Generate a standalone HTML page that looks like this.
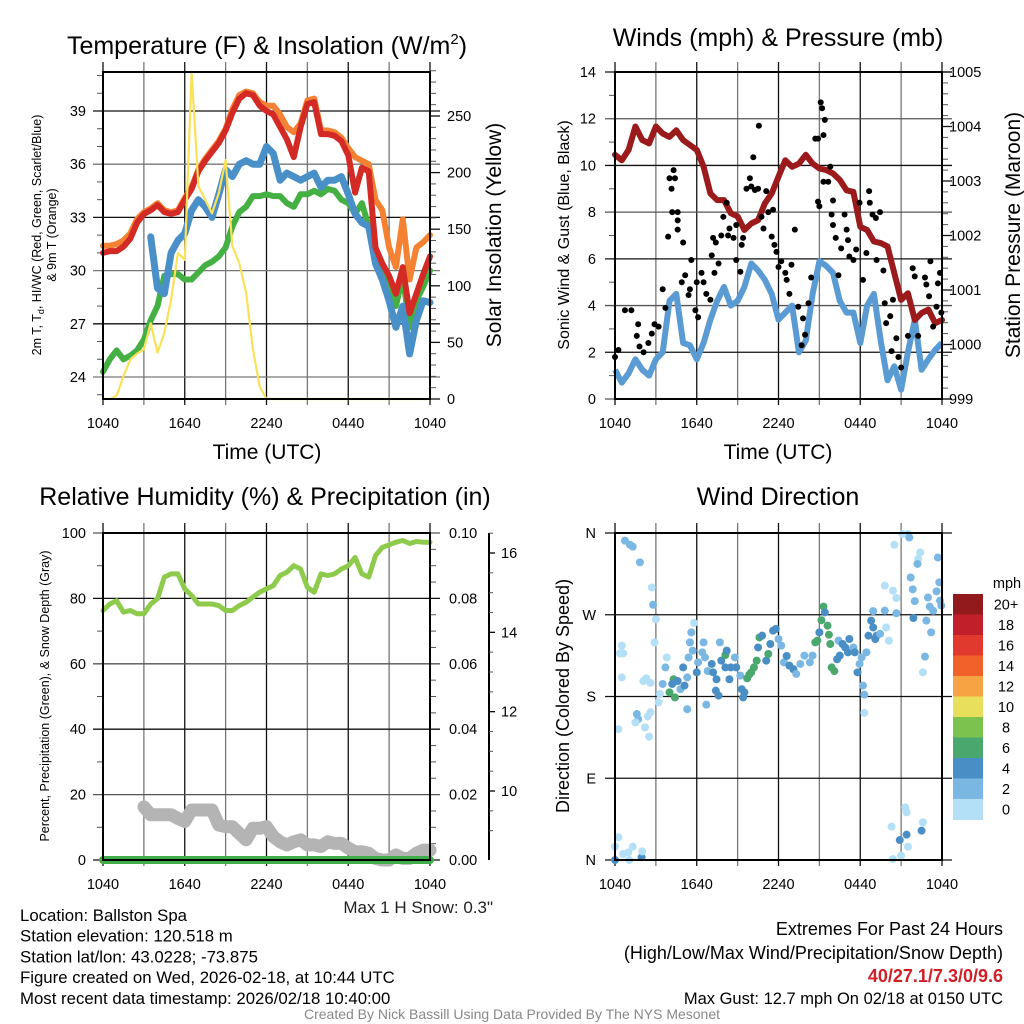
<!DOCTYPE html>
<html><head><meta charset="utf-8"><style>
html,body{margin:0;padding:0;background:#fff;}
svg{display:block;font-family:"Liberation Sans",sans-serif;}
</style></head><body>
<svg id="fig" width="1024" height="1024" viewBox="0 0 1024 1024" xmlns="http://www.w3.org/2000/svg">
<rect width="1024" height="1024" fill="#fff"/>
<g id="layer"></g>
</svg>
<script>
// ---------- DATA (half-hourly, 49 points from 1040 UTC to 1040 UTC) ----------
const xTickLabels = ["1040","1640","2240","0440","1040"];
const tempRed = [31.0,31.1,31.1,31.35,31.8,32.7,33.2,33.4,33.7,33.3,33.2,33.3,34.0,34.6,35.6,36.2,36.7,37.2,37.9,38.9,39.7,40.0,39.9,39.3,39.0,38.8,38.1,37.4,36.4,38.1,39.4,39.5,37.7,37.7,37.6,37.3,36.5,34.4,35.8,35.6,31.3,30.4,29.7,28.7,30.2,27.6,28.7,29.8,30.8];
const tempOrange = [31.4,31.4,31.5,31.7,32.1,32.9,33.3,33.5,33.8,33.4,33.3,33.4,34.1,34.7,35.7,36.3,36.8,37.3,38.0,39.1,39.9,40.1,40.0,39.5,39.3,39.3,38.8,38.1,37.8,38.3,39.6,39.7,37.9,37.9,37.8,37.5,36.9,36.4,36.2,36.0,34.0,33.4,31.3,30.2,32.9,29.5,31.3,31.6,32.0];
const dewGreen = [24.3,25.0,25.5,25.0,25.2,25.5,26.1,27.2,28.0,29.7,29.8,29.8,29.5,29.5,29.9,30.3,30.5,30.8,31.3,32.5,33.3,33.6,34.2,34.2,34.3,34.2,34.2,33.8,33.6,34.3,34.3,34.5,34.3,34.6,34.5,34.0,33.8,33.2,33.8,32.5,30.6,29.7,29.1,28.0,29.7,26.8,28.3,29.1,30.0];
const windChillBlue = [null,null,29.5,null,null,null,null,31.9,29.0,28.7,31.0,31.7,32.1,33.4,34.0,33.6,33.0,34.3,35.7,35.3,36.0,36.2,36.0,36.0,37.0,36.6,35.1,35.5,35.3,35.1,35.3,35.5,34.7,35.1,35.1,35.3,34.3,33.2,32.7,32.5,30.4,29.5,28.3,26.8,28.0,25.3,27.2,28.3,28.2];
const solar = [0,0,3,20,35,40,44,67,41,58,88,129,123,289,188,176,164,182,211,135,120,94,44,11,0,0,0,0,0,0,0,0,0,0,0,0,0,0,0,0,0,0,0,0,0,0,0,0,0];
const windSpeed = [1.25,0.7,1.1,1.7,1.25,1.0,1.7,2.0,4.2,4.5,2.4,2.3,1.7,2.4,3.4,4.2,4.8,4.0,4.2,4.8,5.8,5.5,5.1,4.5,3.4,3.7,4.0,2.0,2.5,4.5,5.9,5.7,5.4,4.2,3.7,3.7,2.4,4.0,4.5,2.5,0.8,1.4,0.4,2.0,3.4,1.25,1.7,2.1,2.4];
const pressure = [1003.48,1003.38,1003.57,1004.0,1003.75,1003.69,1004.0,1003.87,1003.81,1003.93,1003.75,1003.66,1003.57,1003.26,1002.77,1002.65,1002.65,1002.41,1002.35,1002.10,1002.22,1002.28,1002.59,1002.77,1003.08,1003.38,1003.26,1003.32,1003.48,1003.32,1003.23,1003.20,1003.14,1003.02,1002.83,1002.80,1002.16,1002.10,1001.89,1001.86,1001.80,1001.31,1000.82,1000.94,1000.45,1000.58,1000.64,1000.39,1000.45];
const gustTimes = [0,0.25,0.73,1.2,1.7,1.6,1.8,2.1,2.45,2.7,2.9,3.2,3.5,3.7,3.9,4.0,4.3,4.15,4.4,4.2,4.6,4.6,4.6,5.0,5.15,4.9,5.4,5.6,5.5,5.9,6.1,6.0,6.5,6.35,6.7,7.0,7.1,7.2,7.4,7.6,7.3,7.8,7.95,8.2,8.3,8.4,8.7,8.9,8.9,9.2,9.3,9.4,9.65,9.9,10.0,10.15,10.27,10.5,10.56,10.75,10.9,11.1,11.25,11.6,11.5,11.7,11.85,12.0,12.2,12.5,12.6,12.95,13.2,12.8,13.45,13.8,13.95,13.7,14.2,14.4,14.7,14.9,15.1,15.2,15.3,15.4,14.9,15.0,15.3,15.65,15.8,15.9,16.0,16.0,16.2,16.4,16.6,16.85,17.0,17.1,17.2,17.5,17.7,17.95,18.2,18.45,18.65,18.7,18.9,19.15,19.2,19.45,19.7,19.8,19.9,20.2,20.3,20.4,20.65,20.8,21.0,21.5,21.85,22.0,22.25,22.75,22.85,23.05,23.15,23.35,23.6,23.7,23.85,23.95];
const gustValues = [1.8,2.1,3.8,3.8,3.2,2.7,2.25,2.0,2.4,2.8,3.2,3.1,4.7,3.9,6.95,9.45,9.8,9.0,9.45,8.0,8.0,7.65,7.25,6.7,5.3,5.0,4.45,5.95,4.7,3.8,3.5,5.0,5.0,5.4,4.5,4.25,6.15,6.9,6.7,5.8,5.4,7.0,7.8,8.4,7.0,7.3,6.9,5.95,7.45,5.45,6.6,6.9,9.0,9.45,9.1,10.35,8.95,9.0,11.7,7.8,7.3,8.9,8.0,8.1,6.95,6.6,6.3,5.65,5.9,5.4,5.1,5.75,7.25,4.5,3.95,3.45,2.75,2.3,4.1,5.2,11.15,11.15,12.7,12.45,11.3,11.95,8.45,8.25,9.3,9.3,9.95,7.9,8.5,7.45,6.9,5.3,6.45,7.9,7.25,6.8,6.1,5.95,6.4,8.4,5.1,6.25,8.9,8.4,7.9,7.75,5.95,8.0,5.5,4.1,3.25,3.55,2.05,4.25,2.6,1.8,1.35,2.7,5.6,5.25,2.7,5.2,4.9,4.4,5.9,3.1,3.95,4.95,5.4,3.7];
const dirTimes = [0.73,1.1,1.3,1.83,2.7,2.8,3.0,2.9,0.25,0.5,0.37,0.6,0.5,1.6,1.7,1.5,2.08,2.3,2.6,2.6,2.4,2.2,2.5,3.2,3.3,3.5,3.7,3.8,4.0,4.3,4.2,4.4,4.6,4.8,5.0,5.1,5.3,5.3,5.4,5.5,5.6,5.8,5.7,6.0,6.1,6.4,6.5,6.6,6.7,6.8,7.1,7.2,7.4,7.6,7.45,7.7,7.8,8.1,8.1,8.2,8.4,8.5,8.8,8.9,9.2,9.3,9.4,9.5,9.7,9.85,10.0,10.2,10.4,10.5,10.6,10.8,11.1,11.25,11.4,11.6,11.8,12.0,12.2,12.4,12.6,12.8,13.1,13.3,13.6,13.9,14.3,14.5,14.7,14.85,15.0,15.15,15.3,15.4,15.6,15.7,15.8,15.9,16.1,16.3,16.4,16.5,16.7,16.9,17.1,17.2,17.5,17.6,17.8,17.95,18.1,18.2,18.3,18.3,18.45,18.6,18.8,18.95,19.1,19.2,18.95,19.45,19.8,19.9,20.1,19.8,20.4,20.5,20.65,20.65,21.1,21.5,21.6,21.7,21.85,21.9,22.0,22.25,22.4,22.2,22.75,22.6,22.85,22.97,23.1,23.2,23.35,23.6,23.7,23.8,23.85,23.95,0,0.25,0,0.6,0.98,1.05,1.3,1.95,2.0,20.3,20.4,20.9,21.0,21.3,21.4,21.4,21.5,22.5,22.6];
const dirDegrees = [351.6,347,345,327.7,300,281,265,239.6,144,236,227.5,227.5,201,160.7,155,151.5,197,200,195,162.6,158,146,135.8,173.6,182.7,193.8,212,223,184.6,199,193.8,179,197,188,212,192,166,201,223,239.6,250.6,261,230.5,206.6,217.6,228.6,239.6,223,171,208,215.8,206.6,186.4,181,199,239.6,219.5,212,225.7,230.5,199,212,223,212,203,188,179,184.6,200,204,206.6,212,219.5,234,245,247,219.5,226.8,237.8,252.5,254.3,243.3,236,217.6,224.6,214,210,204.8,215.8,225,217.6,225,239.6,241.5,250.6,264,279,272.6,258,248,237.8,212,208,221,241.5,225,237.8,234,228.6,243.3,234,228.6,206.6,215.8,223,192,182,162,228.6,247,263.5,256,243.3,247,274,249,274.5,256,241.5,302,296.5,347,288.4,271.6,358.9,358.9,355,311,298,266.4,285,331.4,338.6,325.9,223.9,206.6,263.5,289,279,250.6,274.4,295.8,333,305.7,285.5,280,0,25,14.7,6.6,8.4,0,14.7,3,9.5,36.7,1,22,4.8,58,52.5,27.9,14.7,32.3,41.5];
const dirSpeeds = [3,3,3,3,1,3,1,1,1,1,1,1,1,3,3,1,1,1,1,1,1,1,1,1,1,3,3,1,7,7,5,7,5,3,5,5,3,3,3,3,3,1,3,5,3,3,3,3,3,3,5,5,5,5,5,3,5,5,7,5,5,5,3,5,3,5,5,5,7,7,7,7,7,5,7,5,5,7,5,5,5,3,3,3,5,5,5,3,3,3,3,3,7,7,5,7,7,5,7,7,7,7,7,5,3,5,5,5,5,5,3,5,5,3,3,3,3,1,3,5,5,5,5,5,3,3,3,1,1,1,1,1,1,3,1,1,3,3,3,5,3,1,1,3,3,1,3,3,3,3,3,3,3,3,3,3,5,1,1,1,1,1,1,5,1,1,1,5,1,1,1,5,1,5,1];
const rh = [76.3,78.3,79.3,75.8,76.3,75.3,75.3,78.3,79.9,86.5,87.5,87.5,82.9,80.9,78.3,78.3,78.3,77.8,76.3,76.3,77.8,78.8,80.4,81.9,82.9,83.9,87.0,88.0,90.0,89.0,83.4,81.9,87.5,87.0,87.5,89.0,90.0,92.5,87.5,86.5,93.1,95.6,96.4,97.2,97.7,96.8,97.4,97.2,97.2];
const precip = [0,0,0,0,0,0,0,0,0,0,0,0,0,0,0,0,0,0,0,0,0,0,0,0,0,0,0,0,0,0,0,0,0,0,0,0,0,0,0,0,0,0,0,0,0,0,0,0,0];
const snowDepth = [null,null,null,null,null,null,9.60,9.40,9.40,9.40,9.40,9.31,9.23,9.52,9.52,9.52,9.52,9.14,9.10,9.10,8.93,8.77,9.06,9.06,9.10,8.85,8.72,8.64,8.72,8.77,8.64,8.64,8.60,8.72,8.68,8.68,8.56,8.47,8.47,8.43,8.30,8.26,8.26,8.39,8.30,8.30,8.43,8.51,8.51];
const speedBins = ["0","2","4","6","8","10","12","14","16","18","20+"];
const speedColors = ["#b3e0f7","#7ab8e3","#4a8ec6","#4aa86e","#7bc24e","#e8e05a","#f6a443","#f0622a","#e03a2e","#c1202a","#921a1d"];

// ---------- HELPERS ----------
const NS="http://www.w3.org/2000/svg";
const layer=document.getElementById('layer');
function mk(tag,attrs,parent){const e=document.createElementNS(NS,tag);for(const k in attrs)e.setAttribute(k,attrs[k]);(parent||layer).appendChild(e);return e;}
function lin(d0,d1,r0,r1){return v=>r0+(v-d0)*(r1-r0)/(d1-d0);}
function txt(x,y,s,size,anchor,extra){const t=mk('text',Object.assign({x:x,y:y,'font-size':size,'text-anchor':anchor||'middle',fill:'#000'},extra||{}));t.textContent=s;return t;}
function pathFrom(xs,ys){let d='',pen=false;for(let i=0;i<xs.length;i++){if(ys[i]===null){pen=false;continue;}d+=(pen?'L':'M')+xs[i].toFixed(1)+','+ys[i].toFixed(1);pen=true;}return d;}

function frame(p){
  const g=mk('g',{});
  
  
  for(let h=0;h<=24;h+=3){const x=p.x(h);mk('line',{x1:x,x2:x,y1:p.y0-10,y2:p.y1+6,stroke:(h%6===0)?'#111':'#777','stroke-width':1.3},g);}
  return g;
}
function xAxis(p){
  const g=mk('g',{});
  
  
  xTickLabels.forEach((s,i)=>{const t=txt(p.x(i*6),p.y1+29,s,14.5,'middle',{});g.appendChild(t);});
  return g;
}
function hGrid(p,vals,scale,col){vals.forEach((v,i)=>{const y=scale(v);mk('line',{x1:p.x0-10,x2:p.x1+10,y1:y,y2:y,stroke:col?col(i):'#111','stroke-width':1.3});});}
function minor(xa,vals,scale,dir,len){vals.forEach(v=>{const y=scale(v);mk('line',{x1:xa,x2:xa+dir*len,y1:y,y2:y,stroke:'#555','stroke-width':1});});}

const tH=i=>i*0.5;
const idx=tempRed.map((_,i)=>i);

// ---------- PANEL 1: Temperature ----------
(function(){
  const p={name:'temperature-panel',x0:103,x1:430,y0:72,y1:399};
  p.x=lin(0,24,p.x0,p.x1);
  const yT=lin(24,39,377,111), yS=lin(0,250,399,116);
  frame(p);
  hGrid(p,[24,27,30,33,36,39],yT,i=>i%2?'#111':'#777');
  const mt=[];for(let v=23;v<=41;v+=1)if(v%3)mt.push(v);minor(p.x0,mt,yT,-1,6);
  const ms=[];for(let v=10;v<=290;v+=10)if(v%50)ms.push(v);minor(p.x1,ms,yS,1,6);
  [0,50,100,150,200,250].forEach(v=>{mk('line',{x1:p.x1,x2:p.x1+10,y1:yS(v),y2:yS(v),stroke:'#111','stroke-width':1.3});const t=txt(p.x1+17,yS(v)+5,String(v),14.5,'start');});
  [24,27,30,33,36,39].forEach(v=>{const t=txt(86,yT(v)+5,String(v),14.5,'end');});
  const xs=idx.map(i=>p.x(tH(i)));
  const series=[[dewGreen,'#44b043','dewpoint-line',6],[windChillBlue,'#4a90c8','heat-index-wind-chill-line',7],[tempOrange,'#f58232','temp-9m-line',6],[tempRed,'#d42a26','temp-2m-line',6]];
  series.forEach(s=>{const e=mk('path',{d:pathFrom(xs,s[0].map(v=>v===null?null:yT(v))),fill:'none',stroke:s[1],'stroke-width':s[3],'stroke-linejoin':'round','stroke-linecap':'round'});});
  const sl=mk('path',{d:pathFrom(xs,solar.map(v=>yS(v))),fill:'none',stroke:'#fbe15a','stroke-width':2.2,'stroke-linejoin':'round'});
  
  
  mk('rect',{x:p.x0,y:p.y0,width:p.x1-p.x0,height:p.y1-p.y0,fill:'none',stroke:'#000','stroke-width':2});
  xAxis(p);
  const ti=txt(267,54,'Temperature (F) & Insolation (W/m',25,'middle');
  const ts=mk('tspan',{'font-size':15,dy:-10},ti);ts.textContent='2';const ts2=mk('tspan',{dy:10},ti);ts2.textContent=')';
  const xt=txt(267,459,'Time (UTC)',21,'middle');
  const st=txt(0,0,'Solar Insolation (Yellow)',21,'middle',{transform:'translate(501,235) rotate(-90)'});
  const yl=txt(0,0,'',12.5,'middle',{transform:'translate(41,235) rotate(-90)'});
  const a=mk('tspan',{},yl);a.textContent='2m T, T';const b=mk('tspan',{'font-size':9,dy:3},yl);b.textContent='d';const c=mk('tspan',{dy:-3},yl);c.textContent=', HI/WC (Red, Green, Scarlet/Blue)';
  const yl2=txt(0,0,'& 9m T (Orange)',12.5,'middle',{transform:'translate(56,235) rotate(-90)'});
})();

// ---------- PANEL 2: Winds ----------
(function(){
  const p={name:'winds-panel',x0:615,x1:942,y0:72,y1:399};
  p.x=lin(0,24,p.x0,p.x1);
  const yW=lin(0,14,399,72), yP=lin(999,1005,399,72);
  frame(p);
  hGrid(p,[0,2,4,6,8,10,12,14],yW,i=>i%2?'#111':'#555');
  const mw=[];for(let v=1;v<14;v+=2)mw.push(v);minor(p.x0,mw,yW,-1,6);
  const mp=[];for(let v=999.2;v<1005;v+=0.2)if(Math.abs(v-Math.round(v))>0.05)mp.push(v);minor(p.x1,mp,yP,1,6);
  [999,1000,1001,1002,1003,1004,1005].forEach(v=>{mk('line',{x1:p.x1,x2:p.x1+10,y1:yP(v),y2:yP(v),stroke:'#111','stroke-width':1.3});const t=txt(p.x1+7,yP(v)+5,String(v),14.5,'start');});
  [0,2,4,6,8,10,12,14].forEach(v=>{const t=txt(596,yW(v)+5,String(v),14.5,'end');});
  const xs=idx.map(i=>p.x(tH(i)));
  const wl=mk('path',{d:pathFrom(xs,windSpeed.map(v=>yW(v))),fill:'none',stroke:'#5a9bd3','stroke-width':6,'stroke-linejoin':'round'});
  
  
  const pl=mk('path',{d:pathFrom(xs,pressure.map(v=>yP(v))),fill:'none',stroke:'#9b1a1c','stroke-width':6,'stroke-linejoin':'round','stroke-linecap':'round'});
  
  
  gustTimes.forEach((t,i)=>{const c=mk('circle',{cx:p.x(t),cy:yW(gustValues[i]),r:3,fill:'#000'});
    
    });
  mk('rect',{x:p.x0,y:p.y0,width:p.x1-p.x0,height:p.y1-p.y0,fill:'none',stroke:'#000','stroke-width':2});
  xAxis(p);
  const ti=txt(778,46,'Winds (mph) & Pressure (mb)',25,'middle');
  const xt=txt(778,459,'Time (UTC)',21,'middle');
  const l=txt(0,0,'Sonic Wind & Gust (Blue, Black)',16,'middle',{transform:'translate(569,235) rotate(-90)'});
  const r=txt(0,0,'Station Pressure (Maroon)',21,'middle',{transform:'translate(1020,235) rotate(-90)'});
})();

// ---------- PANEL 3: Humidity ----------
(function(){
  const p={name:'humidity-panel',x0:103,x1:430,y0:533,y1:860};
  p.x=lin(0,24,p.x0,p.x1);
  const yR=lin(0,100,860,533), yPr=lin(0,0.1,860,533), ySn=lin(10,16,791,553);
  frame(p);
  hGrid(p,[0,20,40,60,80,100],yR,i=>i%2?'#555':'#111');
  const mr=[];for(let v=10;v<100;v+=20)mr.push(v);minor(p.x0,mr,yR,-1,6);minor(p.x1,mr.concat([5,15,25,35,45,55,65,75,85,95].filter(v=>v%10)),yR,1,6);
  [0,20,40,60,80,100].forEach(v=>{const t=txt(86,yR(v)+5,String(v),14.5,'end');});
  ['0.00','0.02','0.04','0.06','0.08','0.10'].forEach((s,i)=>{const t=txt(449,yPr(i*0.02)+5,s,14.5,'start');});
  const ax=mk('line',{x1:489,x2:489,y1:533,y2:860,stroke:'#000','stroke-width':2});
  
  
  [10,12,14,16].forEach(v=>{mk('line',{x1:489,x2:495,y1:ySn(v),y2:ySn(v),stroke:'#000','stroke-width':1.3});const t=txt(501,ySn(v)+5,String(v),14.5,'start');});
  for(let v=9;v<=16.6;v+=0.5){if(v%2)mk('line',{x1:489,x2:493,y1:ySn(v),y2:ySn(v),stroke:'#555','stroke-width':1});}
  const xs=idx.map(i=>p.x(tH(i)));
  const sn=mk('path',{d:pathFrom(xs,snowDepth.map(v=>v===null?null:ySn(v))),fill:'none',stroke:'#b4b4b4','stroke-width':13,'stroke-linejoin':'round','stroke-linecap':'round'});
  
  
  const pr=mk('path',{d:pathFrom(xs,precip.map(v=>yPr(v))),fill:'none',stroke:'#3fae49','stroke-width':8,'stroke-linecap':'round'});
  
  
  const rl=mk('path',{d:pathFrom(xs,rh.map(v=>yR(v))),fill:'none',stroke:'#8ecb4d','stroke-width':5,'stroke-linejoin':'round','stroke-linecap':'round'});
  
  
  mk('rect',{x:p.x0,y:p.y0,width:p.x1-p.x0,height:p.y1-p.y0,fill:'none',stroke:'#000','stroke-width':2});
  xAxis(p);
  const ti=txt(265,505,'Relative Humidity (%) & Precipitation (in)',25,'middle');
  const l=txt(0,0,'Percent, Precipitation (Green), & Snow Depth (Gray)',12.5,'middle',{transform:'translate(49,696) rotate(-90)'});
  const ms=txt(493,913,'Max 1 H Snow: 0.3"',17,'end',{fill:'#222'});
})();

// ---------- PANEL 4: Wind direction ----------
(function(){
  const p={name:'wind-direction-panel',x0:615,x1:942,y0:533,y1:860};
  p.x=lin(0,24,p.x0,p.x1);
  const yD=lin(0,360,860,533);
  frame(p);
  hGrid(p,[0,90,180,270,360],yD,i=>'#111');
  ['N','E','S','W','N'].forEach((s,i)=>{const t=txt(596,yD(i*90)+5,s,14.5,'end');});
  const colorOf=v=>speedColors[Math.min(10,Math.floor(v/2))];
  dirTimes.forEach((t,i)=>{const c=mk('circle',{cx:p.x(t),cy:yD(dirDegrees[i]),r:4,fill:colorOf(dirSpeeds[i])});
    
    });
  mk('rect',{x:p.x0,y:p.y0,width:p.x1-p.x0,height:p.y1-p.y0,fill:'none',stroke:'#000','stroke-width':2});
  xAxis(p);
  const ti=txt(778,505,'Wind Direction',25,'middle');
  const l=txt(0,0,'Direction (Colored By Speed)',18,'middle',{transform:'translate(569,696) rotate(-90)'});
  const cb=mk('g',{});
  
  
  const bh=20.5;
  speedColors.forEach((c,i)=>{const k=10-i;mk('rect',{x:953,y:594+i*bh,width:30,height:bh+0.5,fill:speedColors[k]},cb);const t=txt(1006,594+i*bh+bh/2+5,speedBins[k],14.5,'middle');cb.appendChild(t);});
  const mph=txt(1007,588,'mph',14.5,'middle');cb.appendChild(mph);
})();

// ---------- FOOTER TEXT ----------
(function(){
  const lines=['Location: Ballston Spa','Station elevation: 120.518 m','Station lat/lon: 43.0228; -73.875','Figure created on Wed, 2026-02-18, at 10:44 UTC','Most recent data timestamp: 2026/02/18 10:40:00'];
  const names=['location-text','elevation-text','latlon-text','created-text','timestamp-text'];
  lines.forEach((s,i)=>{const t=txt(20,921+i*20.7,s,16.8,'start');});
  const r1=txt(1003,935,'Extremes For Past 24 Hours',18,'end');
  const r2=txt(1003,959,'(High/Low/Max Wind/Precipitation/Snow Depth)',18,'end');
  const r3=txt(1003,982,'40/27.1/7.3/0/9.6',18,'end',{fill:'#d02027','font-weight':'bold'});
  const r4=txt(1003,1004,'Max Gust: 12.7 mph On 02/18 at 0150 UTC',16.5,'end');
  const cr=txt(512,1019,'Created By Nick Bassill Using Data Provided By The NYS Mesonet',14,'middle',{fill:'#888'});
})();
</script>
</body></html>
